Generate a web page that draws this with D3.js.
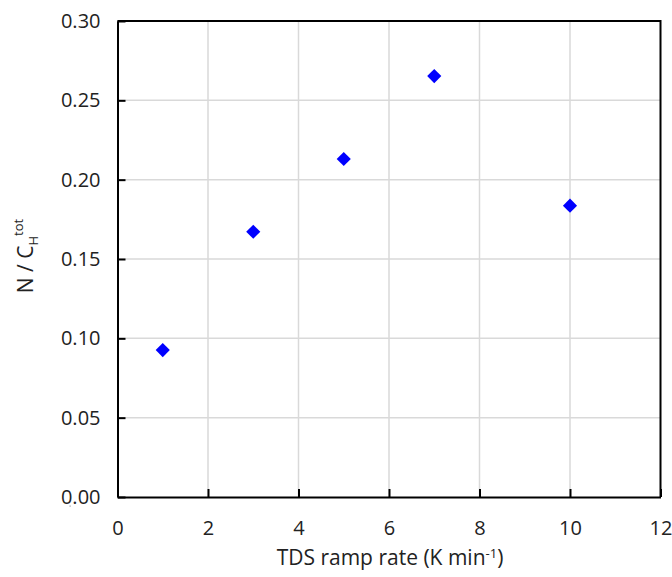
<!DOCTYPE html>
<html>
<head>
<meta charset="utf-8">
<script src="https://cdn.jsdelivr.net/npm/d3@7"></script>
<style>
  body { margin: 0; background: #fff; }
  text { font-family: "Open Sans", sans-serif; fill: #222; }
</style>
</head>
<body>
<script>
// data
var rampRates = [1, 3, 5, 7, 10];
var ratios = [0.0926, 0.1672, 0.2130, 0.2653, 0.1836];
var xTicks = [0, 2, 4, 6, 8, 10, 12];
var yTicks = [0, 0.05, 0.10, 0.15, 0.20, 0.25, 0.30];

var width = 672, height = 577;
var margin = { top: 21, right: 12, bottom: 80, left: 117.5 };

var svg = d3.select('body').append('svg')
  .attr('width', width)
  .attr('height', height);

var x = d3.scaleLinear().domain([0, 12]).range([margin.left, 660.5]);
var y = d3.scaleLinear().domain([0, 0.30]).range([497, margin.top]);

// gridlines
svg.append('g').selectAll('line.gx')
  .data(xTicks.slice(1, -1))
  .join('line')
  .attr('x1', function(d) { return x(d); })
  .attr('x2', function(d) { return x(d); })
  .attr('y1', y(0)).attr('y2', y(0.30))
  .attr('stroke', '#d9d9d9').attr('stroke-width', 1.5);

svg.append('g').selectAll('line.gy')
  .data(yTicks.slice(1, -1))
  .join('line')
  .attr('y1', function(d) { return y(d); })
  .attr('y2', function(d) { return y(d); })
  .attr('x1', x(0)).attr('x2', x(12))
  .attr('stroke', '#d9d9d9').attr('stroke-width', 1.5);

// axes, ticks pointing inward
var xAxis = svg.append('g')
  .attr('transform', 'translate(0,' + y(0) + ')')
  .call(d3.axisBottom(x).tickValues(xTicks).tickSizeInner(-8).tickSizeOuter(0).tickPadding(24).tickFormat(d3.format('d')));

var yAxis = svg.append('g')
  .attr('transform', 'translate(' + x(0) + ',0)')
  .call(d3.axisLeft(y).tickValues(yTicks).tickSizeInner(-8).tickSizeOuter(0).tickPadding(17).tickFormat(d3.format('.2f')));

[xAxis, yAxis].forEach(function(g) {
  g.select('.domain').attr('stroke', '#000').attr('stroke-width', 2);
  g.selectAll('.tick line').attr('stroke', '#000').attr('stroke-width', 2);
  g.selectAll('.tick text').style('font-size', '20px').attr('fill', '#222');
});

// top and right frame
svg.append('path')
  .attr('d', 'M' + x(0) + ',' + y(0.30) + 'H' + x(12) + 'V' + y(0))
  .attr('fill', 'none').attr('stroke', '#000').attr('stroke-width', 2);

// markers
var diamond = d3.symbol().type(d3.symbolSquare).size(100);
svg.append('g').selectAll('path.pt')
  .data(d3.zip(rampRates, ratios))
  .join('path')
  .attr('d', diamond)
  .attr('transform', function(d) { return 'translate(' + x(d[0]) + ',' + y(d[1]) + ') rotate(45)'; })
  .attr('fill', '#0000ff');

// axis titles
svg.append('text')
  .attr('x', 390).attr('y', 565)
  .attr('text-anchor', 'middle')
  .style('font-size', '21px')
  .html('TDS ramp rate (K min<tspan dy="-7" font-size="13">-1</tspan><tspan dy="7">)</tspan>');

svg.append('text')
  .attr('transform', 'translate(33,256) rotate(-90)')
  .attr('text-anchor', 'middle')
  .style('font-size', '21px')
  .html('N / C<tspan dy="5" font-size="13">H</tspan><tspan dy="-15" font-size="13">tot</tspan>');

// stray speck near origin in the source
svg.append('rect').attr('x', 69.5).attr('y', 505.5).attr('width', 1.2).attr('height', 1.2).attr('fill', '#999');
</script>
</body>
</html>
